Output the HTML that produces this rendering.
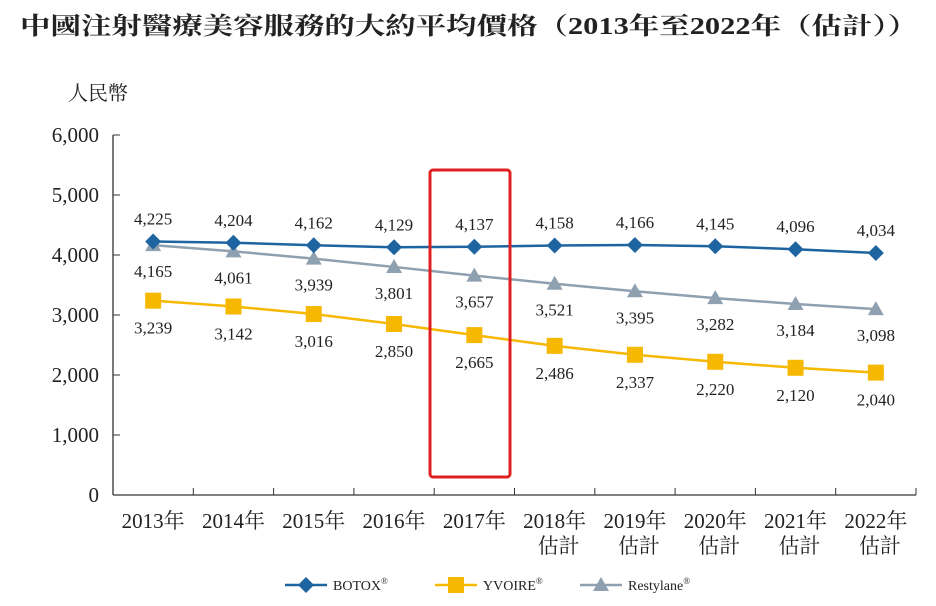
<!DOCTYPE html>
<html><head><meta charset="utf-8">
<style>
body{margin:0;background:#fff;width:936px;height:601px;overflow:hidden}
svg text{font-family:"Liberation Serif","Noto Serif CJK SC",serif;fill:#222}
</style></head>
<body>
<svg id="chart" width="936" height="601" xmlns="http://www.w3.org/2000/svg">
<text x="20" y="34" font-size="24" font-weight="bold" textLength="898" lengthAdjust="spacingAndGlyphs">中國注射醫療美容服務的大約平均價格（2013年至2022年（估計））</text>
<text x="68" y="100" font-size="20">人民幣</text>
<g id="axes"></g>
<g id="series"></g>
<rect x="430" y="170" width="80" height="307" rx="3" fill="none" stroke="#e02020" stroke-width="3"/>
<g id="legend"></g>
</svg>
<script>
const categories=["2013年","2014年","2015年","2016年","2017年","2018年","2019年","2020年","2021年","2022年"];
const subLabels=["","","","","","估計","估計","估計","估計","估計"];
const botox=[4225,4204,4162,4129,4137,4158,4166,4145,4096,4034];
const yvoire=[3239,3142,3016,2850,2665,2486,2337,2220,2120,2040];
const restylane=[4165,4061,3939,3801,3657,3521,3395,3282,3184,3098];
const yTicks=[0,1000,2000,3000,4000,5000,6000];
const NS="http://www.w3.org/2000/svg";
const x0=113,x1=916,y0=495,yTop=135,yMax=6000;
const cw=(x1-x0)/categories.length;
const xs=i=>x0+cw*(i+0.5);
const ys=v=>y0-(v/yMax)*(y0-yTop);
function mk(tag,attrs,parent){const e=document.createElementNS(NS,tag);for(const k in attrs)e.setAttribute(k,attrs[k]);parent.appendChild(e);return e;}
const axes=document.getElementById('axes');
const ax1=mk('line',{x1:x0,y1:y0,x2:x1,y2:y0,stroke:'#333','stroke-width':1.3},axes);


const ax2=mk('line',{x1:x0,y1:y0,x2:x0,y2:yTop,stroke:'#333','stroke-width':1.3},axes);


yTicks.forEach(t=>{
 mk('line',{x1:x0,y1:ys(t),x2:x0+7,y2:ys(t),stroke:'#333'},axes);
 const tx=mk('text',{x:x0-14,y:ys(t)+7,'font-size':21,'text-anchor':'end'},axes);
 tx.textContent=t.toLocaleString('en-US');
 
 
});
categories.forEach((c,i)=>{
 mk('line',{x1:x0+cw*(i+1),y1:y0,x2:x0+cw*(i+1),y2:y0-7,stroke:'#333'},axes);
 const tx=mk('text',{x:xs(i),y:528,'font-size':21,'text-anchor':'middle'},axes);
 tx.textContent=c;
 
 
 if(subLabels[i]){const s=mk('text',{x:xs(i)+4,y:553,'font-size':21,'text-anchor':'middle'},axes);s.textContent=subLabels[i];
 
 }
});
const sg=document.getElementById('series');
function marker(type,x,y,color,g){
 if(type==='d')return mk('path',{d:`M${x} ${y-8}L${x+8} ${y}L${x} ${y+8}L${x-8} ${y}Z`,fill:color},g);
 if(type==='s')return mk('rect',{x:x-8,y:y-8,width:16,height:16,fill:color},g);
 return mk('path',{d:`M${x} ${y-8}L${x+8} ${y+6}L${x-8} ${y+6}Z`,fill:color},g);
}
function series(name,data,color,type,dy){
 const g=mk('g',{},sg);
 
 
 const p=mk('polyline',{points:data.map((v,i)=>xs(i)+','+ys(v)).join(' '),fill:'none',stroke:color,'stroke-width':2.5},g);
 
 
 data.forEach((v,i)=>{
  const m=marker(type,xs(i),ys(v),color,g);
  
  
  const t=mk('text',{x:xs(i),y:ys(v)+dy,'font-size':17,'text-anchor':'middle'},g);
  t.textContent=v.toLocaleString('en-US');
  
  
 });
}
series('restylane',restylane,'#8fa0b0','t',32);
series('yvoire',yvoire,'#f6b800','s',33);
series('botox',botox,'#1e64a0','d',-17);
const lg=document.getElementById('legend');
[["BOTOX","#1e64a0","d",285],["YVOIRE","#f6b800","s",435],["Restylane","#8fa0b0","t",580]].forEach(([n,c,t,x])=>{
 const g=mk('g',{},lg);
 
 
 mk('line',{x1:x,y1:585,x2:x+42,y2:585,stroke:c,'stroke-width':2.5},g);
 marker(t,x+21,585,c,g);
 const tx=mk('text',{x:x+48,y:590,'font-size':14},g);
 tx.textContent=n;
 const sup=mk('tspan',{'font-size':9,dy:-6},tx);sup.textContent='®';
});
</script>
</body></html>
